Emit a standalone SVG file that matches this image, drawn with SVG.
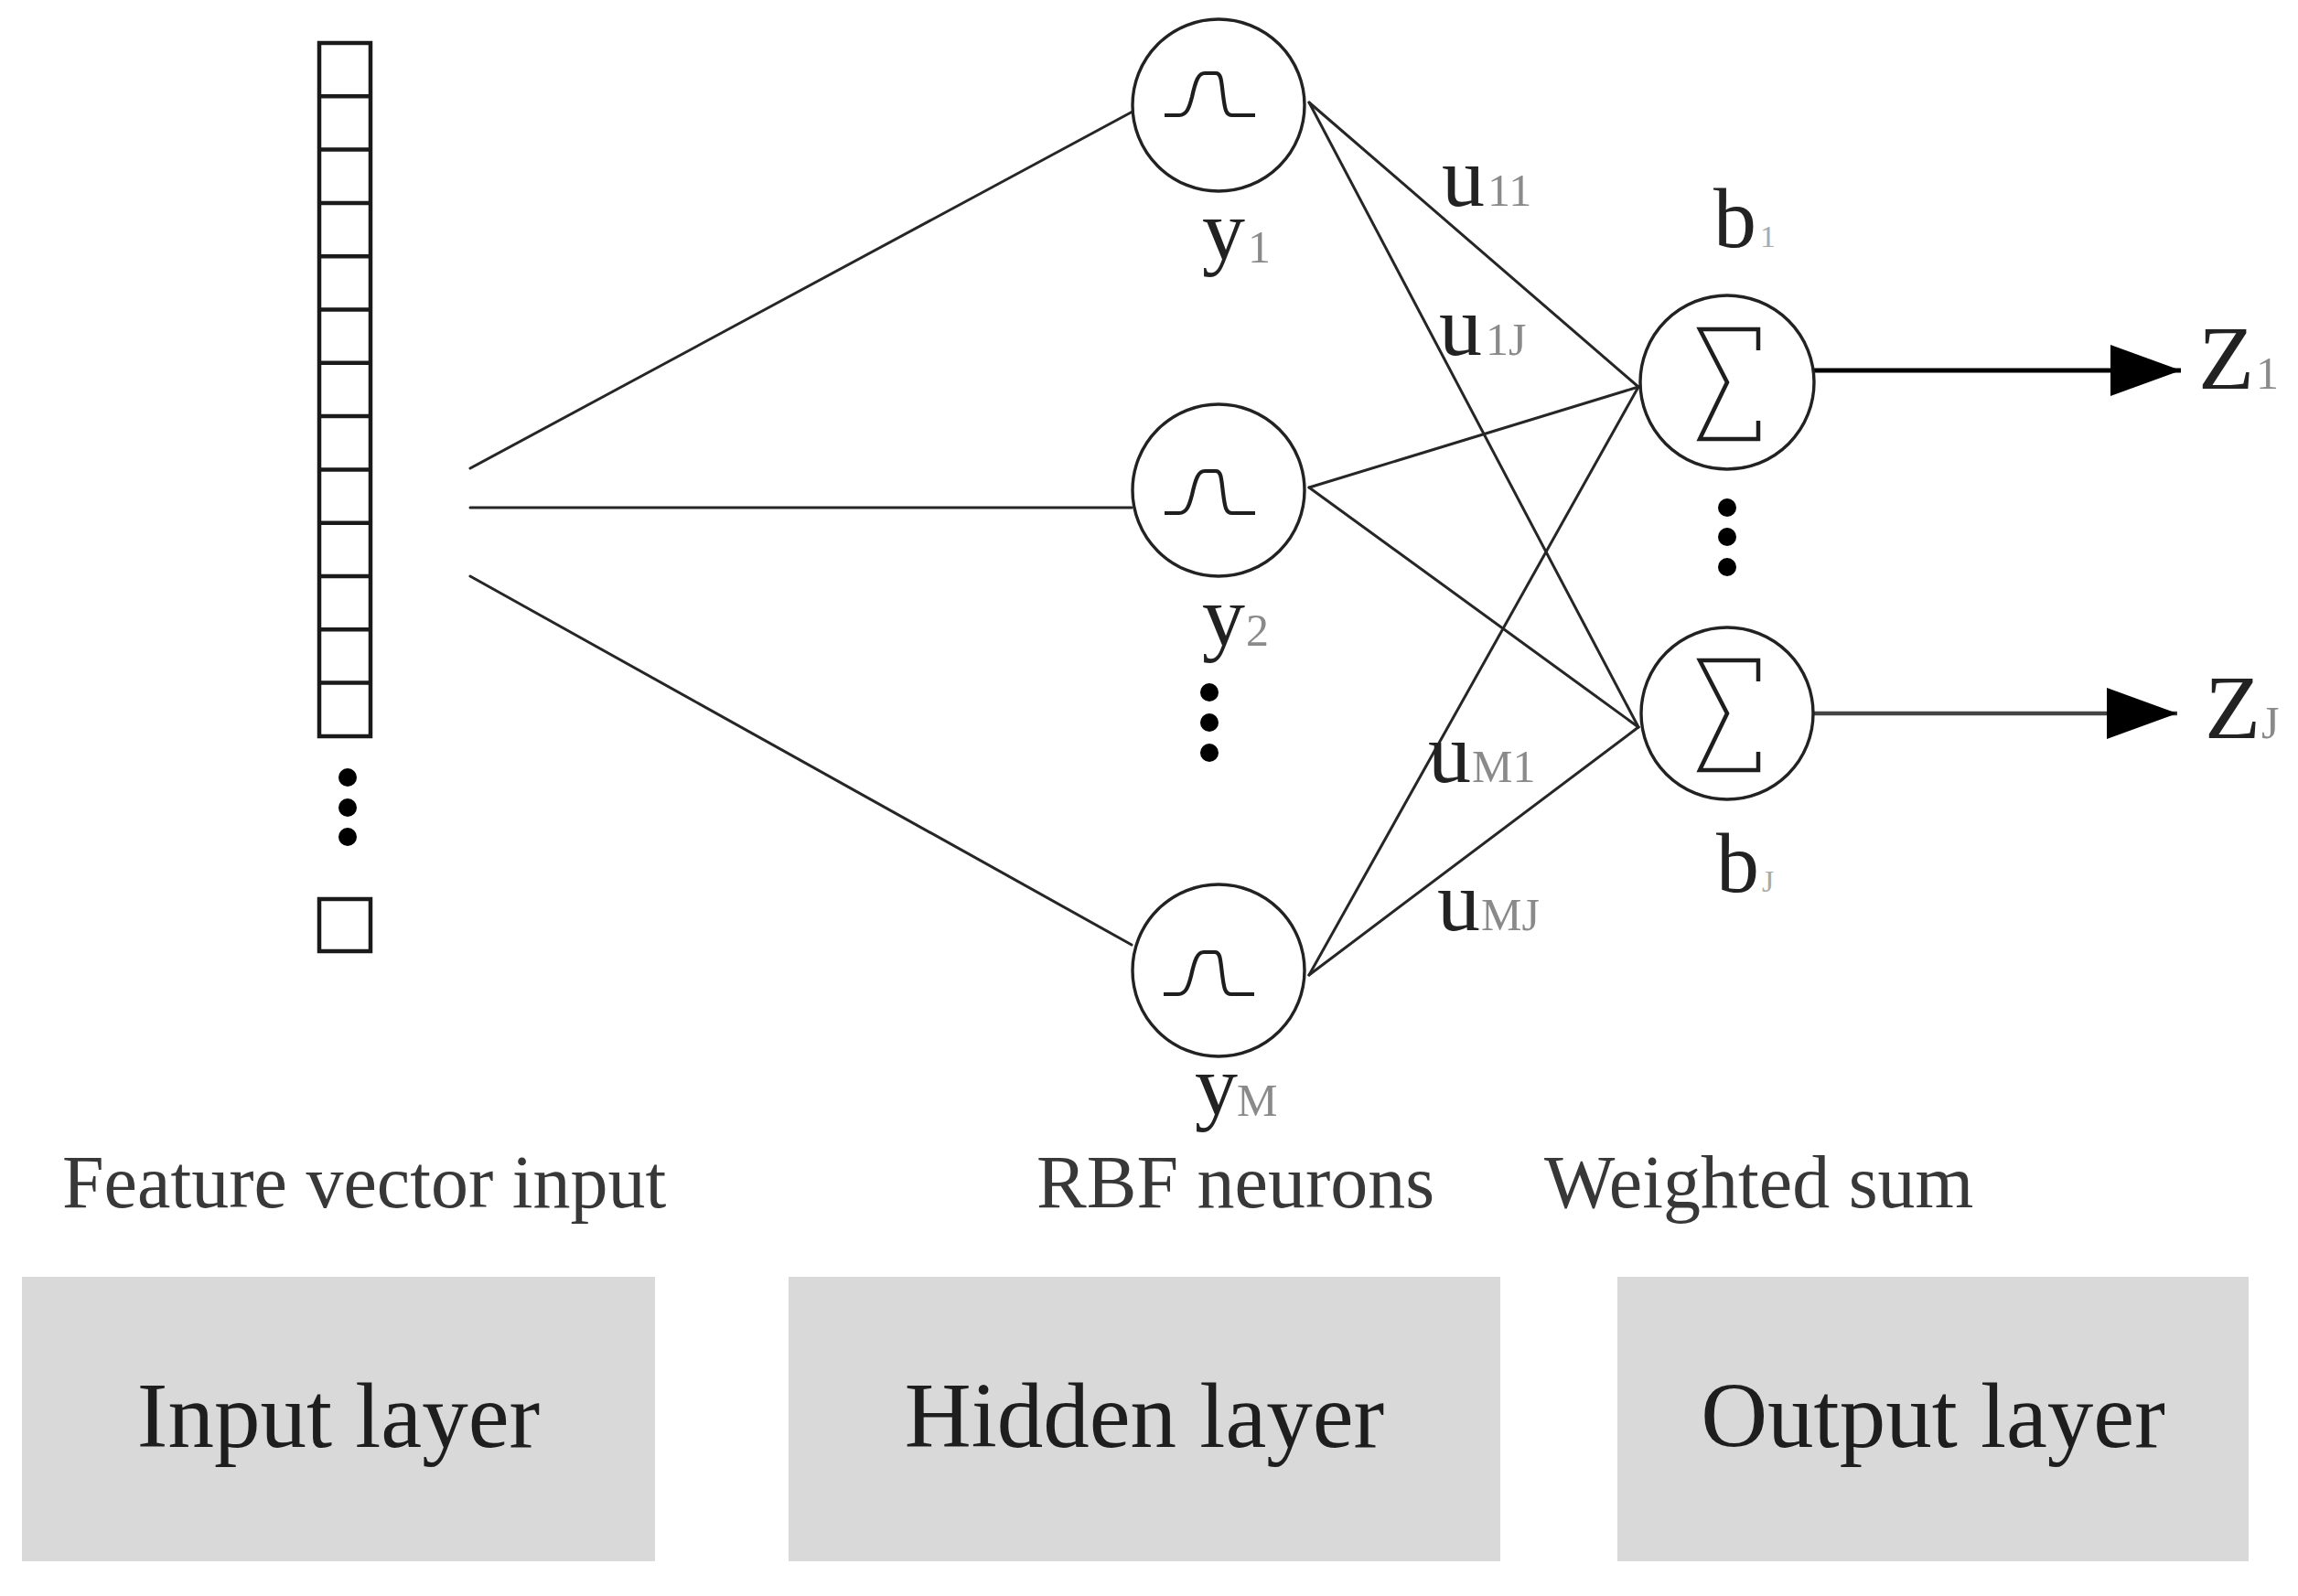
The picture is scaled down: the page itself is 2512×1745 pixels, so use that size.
<svg xmlns="http://www.w3.org/2000/svg" width="2512" height="1745" viewBox="0 0 2512 1745">
<style>
.bg{fill:#fff}
.ln{stroke:#262626;stroke-width:3;fill:none;stroke-linecap:round}
.node{fill:#fff;stroke:#222;stroke-width:3.4}
.cell{fill:#fff;stroke:#1a1a1a;stroke-width:4.5}
.dot{fill:#000}
.gs{fill:none;stroke:#1e1e1e;stroke-width:4.2;stroke-linejoin:round}
.sig{fill:none;stroke:#1e1e1e;stroke-width:4.5;stroke-linejoin:miter}
.t{font-family:"Liberation Serif","Times New Roman",serif;fill:#222}
.lab{font-size:94px}
.sub{font-size:50px;fill:#8a8a8a}
.subs{font-size:34px;fill:#aaa}
.cap{font-size:82px;fill:#383838}
.box{fill:#d9d9d9}
.boxt{font-size:101px;fill:#1e1e1e;text-anchor:middle}
</style>
<defs>
<path id="gauss" class="gs" d="M0,0 L16,0 C24,0 27,-8 30,-20 C34,-38 37,-46 44,-46 L56,-46 C62,-46 62,-38 64,-22 C66,-6 67,0 74,0 L99,0"/>
<path id="sigma" class="sig" d="M34,-35 L34,-58 L-30,-58 L0,0 L-30,62 L34,62 L34,42"/>
<marker id="arr" markerWidth="80" markerHeight="60" refX="77" refY="28" orient="auto" markerUnits="userSpaceOnUse">
<path d="M0,0 L77,28 L0,56 Z" fill="#000"/>
</marker>
</defs>
<rect class="bg" x="0" y="0" width="2512" height="1745"/>

<g id="connectors">
<line class="ln" x1="514" y1="512" x2="1238" y2="122"/>
<line class="ln" x1="514" y1="555" x2="1237" y2="555"/>
<line class="ln" x1="514" y1="630" x2="1237" y2="1033"/>
<line class="ln" x1="1431" y1="112" x2="1791" y2="423"/>
<line class="ln" x1="1431" y1="112" x2="1791" y2="795"/>
<line class="ln" x1="1431" y1="533" x2="1791" y2="423"/>
<line class="ln" x1="1431" y1="533" x2="1791" y2="795"/>
<line class="ln" x1="1431" y1="1066" x2="1791" y2="423"/>
<line class="ln" x1="1431" y1="1066" x2="1791" y2="795"/>
<line x1="1983" y1="405" x2="2384" y2="405" stroke="#000" stroke-width="5" marker-end="url(#arr)"/>
<line x1="1983" y1="780" x2="2380" y2="780" stroke="#444" stroke-width="4.5" marker-end="url(#arr)"/>
</g>

<g id="input-vector">
<rect class="cell" x="349" y="47" width="56" height="758"/>
<path class="cell" d="M349,105.3H405M349,163.6H405M349,221.9H405M349,280.2H405M349,338.5H405M349,396.8H405M349,455.1H405M349,513.4H405M349,571.7H405M349,630H405M349,688.3H405M349,746.6H405"/>
<circle class="dot" cx="380" cy="850" r="10"/>
<circle class="dot" cx="380" cy="883" r="10"/>
<circle class="dot" cx="380" cy="915" r="10"/>
<rect class="cell" x="349" y="983" width="56" height="57"/>
</g>

<g id="hidden-1">
<circle class="node" cx="1332" cy="115" r="94"/>
<use href="#gauss" x="1273" y="126"/>
<text class="t lab" x="1314" y="283">y</text>
<text class="t sub" x="1364" y="287">1</text>
</g>
<g id="hidden-2">
<circle class="node" cx="1332" cy="536" r="94"/>
<use href="#gauss" x="1273" y="561"/>
<text class="t lab" x="1314" y="705">y</text>
<text class="t sub" x="1362" y="706">2</text>
</g>
<g id="hidden-dots">
<circle class="dot" cx="1322" cy="757" r="10"/>
<circle class="dot" cx="1322" cy="790" r="10"/>
<circle class="dot" cx="1322" cy="823" r="10"/>
</g>
<g id="hidden-M">
<circle class="node" cx="1332" cy="1061" r="94"/>
<use href="#gauss" x="1272" y="1087"/>
<text class="t lab" x="1306" y="1218">y</text>
<text class="t sub" x="1352" y="1220">M</text>
</g>

<g id="output-1">
<circle class="node" cx="1888" cy="418" r="95"/>
<use href="#sigma" x="1888" y="418"/>
<text class="t lab" x="1873" y="270">b</text>
<text class="t subs" x="1924" y="270">1</text>
</g>
<g id="output-dots">
<circle class="dot" cx="1888" cy="555" r="10"/>
<circle class="dot" cx="1888" cy="587" r="10"/>
<circle class="dot" cx="1888" cy="620" r="10"/>
</g>
<g id="output-J">
<circle class="node" cx="1888" cy="780" r="94"/>
<use href="#sigma" x="1888" y="780"/>
<text class="t lab" x="1876" y="975">b</text>
<text class="t subs" x="1926" y="975">J</text>
</g>

<g id="weights">
<text class="t lab" x="1576" y="225">u</text><text class="t sub" x="1626" y="225">11</text>
<text class="t lab" x="1573" y="388">u</text><text class="t sub" x="1624" y="388">1J</text>
<text class="t lab" x="1561" y="855">u</text><text class="t sub" x="1609" y="855">M1</text>
<text class="t lab" x="1571" y="1017">u</text><text class="t sub" x="1619" y="1017">MJ</text>
</g>

<g id="outputs">
<text class="t" x="2403" y="425" font-size="100">Z</text><text class="t sub" x="2466" y="425">1</text>
<text class="t" x="2410" y="807" font-size="100">Z</text><text class="t sub" x="2472" y="807">J</text>
</g>

<g id="captions">
<text class="t cap" x="68" y="1320">Feature vector input</text>
<text class="t cap" x="1133" y="1320">RBF neurons</text>
<text class="t cap" x="1688" y="1320">Weighted sum</text>
</g>

<g id="input-layer">
<rect class="box" x="24" y="1396" width="692" height="311"/>
<text class="t boxt" x="370" y="1582">Input layer</text>
</g>
<g id="hidden-layer">
<rect class="box" x="862" y="1396" width="778" height="311"/>
<text class="t boxt" x="1251" y="1582">Hidden layer</text>
</g>
<g id="output-layer">
<rect class="box" x="1768" y="1396" width="690" height="311"/>
<text class="t boxt" x="2113" y="1582">Output layer</text>
</g>
</svg>
